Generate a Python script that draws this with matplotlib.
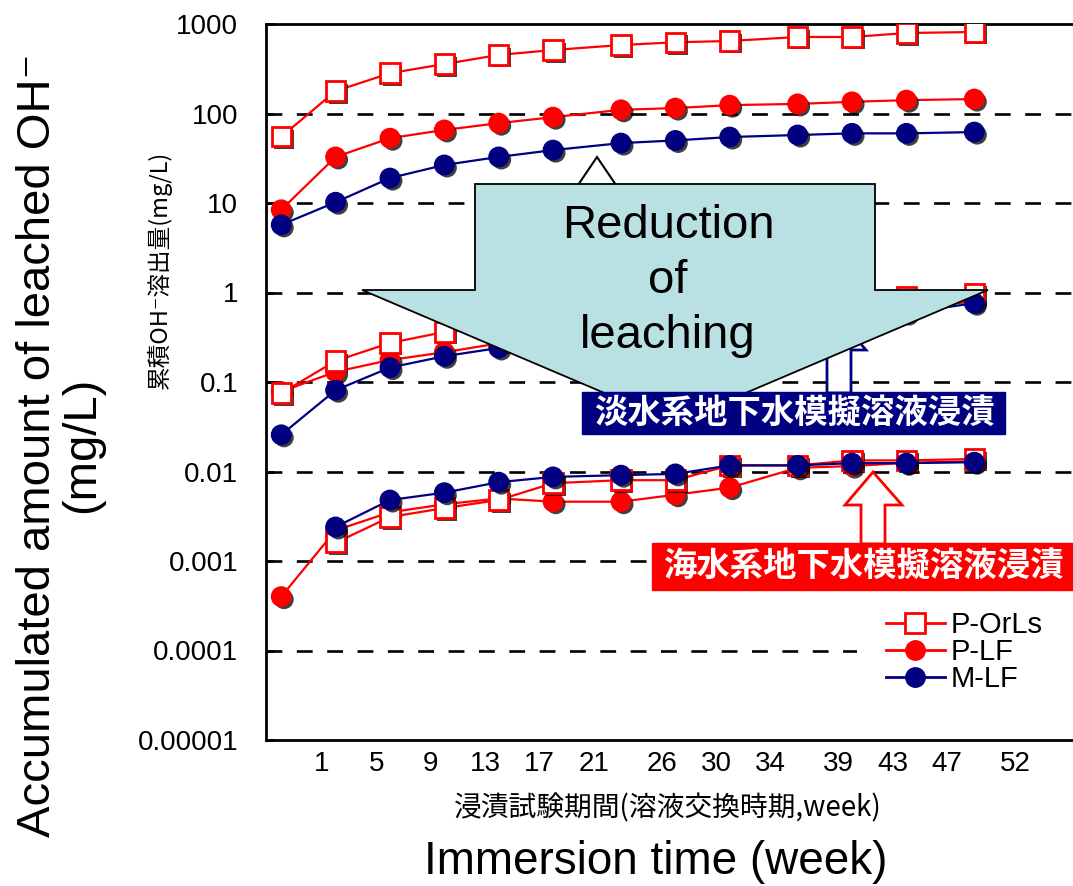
import matplotlib
matplotlib.use("Agg")
import matplotlib.pyplot as plt
import matplotlib.patheffects as pe
from matplotlib.lines import Line2D
from matplotlib.patches import Polygon, Rectangle
import numpy as np

plt.rcParams['font.family'] = ['Liberation Sans', 'Noto Sans CJK JP', 'DejaVu Sans']
CJK = ['Noto Sans CJK JP', 'DejaVu Sans']

# sampling points (week positions on the axis) and axis tick labels
sample_week = [-2, 2, 6, 10, 14, 18, 23, 27, 31, 36, 40, 44, 49]
tick_weeks = [1, 5, 9, 13, 17, 21, 26, 30, 34, 39, 43, 47, 52]
decades = [1e-5, 1e-4, 1e-3, 1e-2, 1e-1, 1, 10, 100, 1000]
decade_labels = ['0.00001', '0.0001', '0.001', '0.01', '0.1', '1', '10', '100', '1000']

nan = np.nan
# upper group
orls_top = [55, 178, 282, 357, 451, 512, 582, 625, 646, 716, 716, 793, 814]
plf_top = [8.4, 32.7, 53, 65.5, 78, 91, 110, 115, 124, 128, 135, 141, 145]
mlf_top = [5.7, 10.2, 19, 26.6, 32.7, 39, 46.7, 50, 54.6, 57.5, 60, 60, 62]
# freshwater groundwater
orls_fresh = [0.075, 0.172, 0.273, 0.362, 0.42, 0.48, 0.55, 0.62, 0.68, 0.75, 0.82, 0.9, 0.98]
plf_fresh = [0.078, 0.13, 0.176, 0.215, 0.27, 0.31, 0.36, 0.41, 0.45, 0.52, 0.58, 0.65, 0.8]
mlf_fresh = [0.0257, 0.081, 0.145, 0.194, 0.24, 0.28, 0.32, 0.37, 0.41, 0.46, 0.52, 0.59, 0.76]
# seawater groundwater
orls_sea = [nan, 0.0016, 0.0031, 0.0039, 0.0048, 0.0074, 0.0080, 0.0080, 0.0117, 0.0117, 0.0133, 0.0133, 0.0138]
plf_sea = [0.0004, 0.0022, 0.0035, 0.0043, 0.0050, 0.0046, 0.0046, 0.0055, 0.0066, 0.011, 0.0115, 0.0125, 0.013]
mlf_sea = [nan, 0.0024, 0.0048, 0.0058, 0.0076, 0.0087, 0.0091, 0.0094, 0.0117, 0.0117, 0.0124, 0.0124, 0.0127]

RED = '#FF0000'
NAVY = '#000080'

styles = {
    'P-OrLs': dict(color=RED, marker='s', mfc='white', mec=RED, mew=2.0),
    'P-LF': dict(color=RED, marker='o', mfc=RED, mec=RED, mew=1.0),
    'M-LF': dict(color=NAVY, marker='o', mfc=NAVY, mec=NAVY, mew=1.0),
}
series = [
    ('P-LF', [plf_top, plf_fresh, plf_sea]),
    ('P-OrLs', [orls_top, orls_fresh, orls_sea]),
    ('M-LF', [mlf_top, mlf_fresh, mlf_sea]),
]

W, H = 1073, 886
fig = plt.figure(figsize=(W / 100, H / 100), dpi=100)

px_per_week = 13.59
ax_left, ax_right_px, ax_top, ax_bottom = 266, 1082, 24, 740
ax = fig.add_axes([ax_left / W, 1 - ax_bottom / H, (ax_right_px - ax_left) / W, (ax_bottom - ax_top) / H])
x0 = 1 - (322 - ax_left) / px_per_week
ax.set_xlim(x0, x0 + (ax_right_px - ax_left) / px_per_week)
ax.set_yscale('log')
ax.set_ylim(1e-5, 1e3)

for level in decades[1:-1]:
    ax.axhline(level, color='black', lw=1.9, ls=(0, (6, 5.5)), zorder=1)

shadow = [pe.SimplePatchShadow(offset=(2, -2), shadow_rgbFace='black', alpha=0.75), pe.Normal()]
for z, (name, groups) in enumerate(series):
    st = styles[name]
    for vals in groups:
        ax.plot(sample_week, vals, color=st['color'], lw=1.6, zorder=2 + z)
        ax.plot(sample_week, vals, ls='none', marker=st['marker'], ms=14,
                mfc=st['mfc'], mec=st['mec'], mew=st['mew'], zorder=2.5 + z,
                path_effects=shadow)

ax.set_yticks(decades)
ax.set_yticklabels(decade_labels)
ax.yaxis.set_minor_locator(matplotlib.ticker.NullLocator())
ax.set_xticks(tick_weeks)
ax.set_xticklabels([str(w) for w in tick_weeks])
ax.tick_params(axis='y', direction='in', length=6, width=2, pad=20, labelsize=20)
ax.tick_params(axis='x', length=0, pad=8, labelsize=20)
for side in ['left', 'top', 'bottom']:
    ax.spines[side].set_linewidth(2)
ax.spines['right'].set_visible(False)

handles = []
for name in ['P-OrLs', 'P-LF', 'M-LF']:
    st = styles[name]
    handles.append(Line2D([], [], color=st['color'], lw=2, marker=st['marker'], ms=14,
                          mfc=st['mfc'], mec=st['mec'], mew=st['mew'], label=name))
leg = ax.legend(handles=handles, loc='center left', bbox_to_anchor=(857 / W, 1 - 652 / H),
                bbox_transform=fig.transFigure, frameon=True, fancybox=False, fontsize=21,
                handlelength=2.0, handletextpad=0.2, labelspacing=-0.04, borderpad=1.0,
                borderaxespad=0)
leg.get_frame().set_facecolor('white')
leg.get_frame().set_edgecolor('none')
leg.get_frame().set_alpha(1)
leg.set_zorder(10)

# annotation layer in pixel units
deco = fig.add_axes([0, 0, 1, 1], zorder=5)
deco.set_xlim(0, W)
deco.set_ylim(H, 0)
deco.axis('off')
deco.patch.set_alpha(0)

small_up = [(597, 157), (616, 185), (606, 185), (606, 205), (588, 205), (588, 185), (578, 185)]
deco.add_patch(Polygon(small_up, closed=True, fc='white', ec='black', lw=1.5, zorder=1))

big_down = [(475, 184), (875, 184), (875, 290), (988, 290), (675, 423), (362, 290), (475, 290)]
deco.add_patch(Polygon(big_down, closed=True, fc='#B9E0E3', ec='black', lw=1.3, zorder=3))
deco.text(668, 281, 'Reduction\nof\nleaching', ha='center', va='center', fontsize=34,
          linespacing=1.32, zorder=4)

fresh_up = [(839, 318), (866, 350), (851, 350), (851, 393), (827, 393), (827, 350), (812, 350)]
deco.add_patch(Polygon(fresh_up, closed=True, fc='white', ec=NAVY, lw=2, zorder=2))
deco.add_patch(Rectangle((582, 392), 423, 42, fc=NAVY, ec=NAVY, zorder=5))
deco.text(794, 413, '淡水系地下水模擬溶液浸漬', ha='center', va='center', color='white',
          fontsize=24, fontweight='bold', family=CJK, zorder=6)

sea_up = [(873, 472), (902, 505), (885, 505), (885, 544), (861, 544), (861, 505), (845, 505)]
deco.add_patch(Polygon(sea_up, closed=True, fc='white', ec=RED, lw=2, zorder=2))
deco.add_patch(Rectangle((652, 543), 440, 47, fc=RED, ec=RED, zorder=5))
deco.text(864, 566, '海水系地下水模擬溶液浸漬', ha='center', va='center', color='white',
          fontsize=24, fontweight='bold', family=CJK, zorder=6)

# axis titles
deco.text(159, 270, '累積OH⁻溶出量(mg/L)', rotation=90, ha='center', va='center',
          fontsize=17, family=CJK)
deco.text(60, 445, 'Accumulated amount of leached OH⁻\n(mg/L)', rotation=90, ha='center',
          va='center', fontsize=34, linespacing=1.0, multialignment='center')
deco.text(668, 808, '浸漬試験期間(溶液交換時期,week)', ha='center', va='center',
          fontsize=20, family=CJK)
deco.text(656, 862, 'Immersion time (week)', ha='center', va='center', fontsize=33)

fig.savefig('out.png', dpi=100)
